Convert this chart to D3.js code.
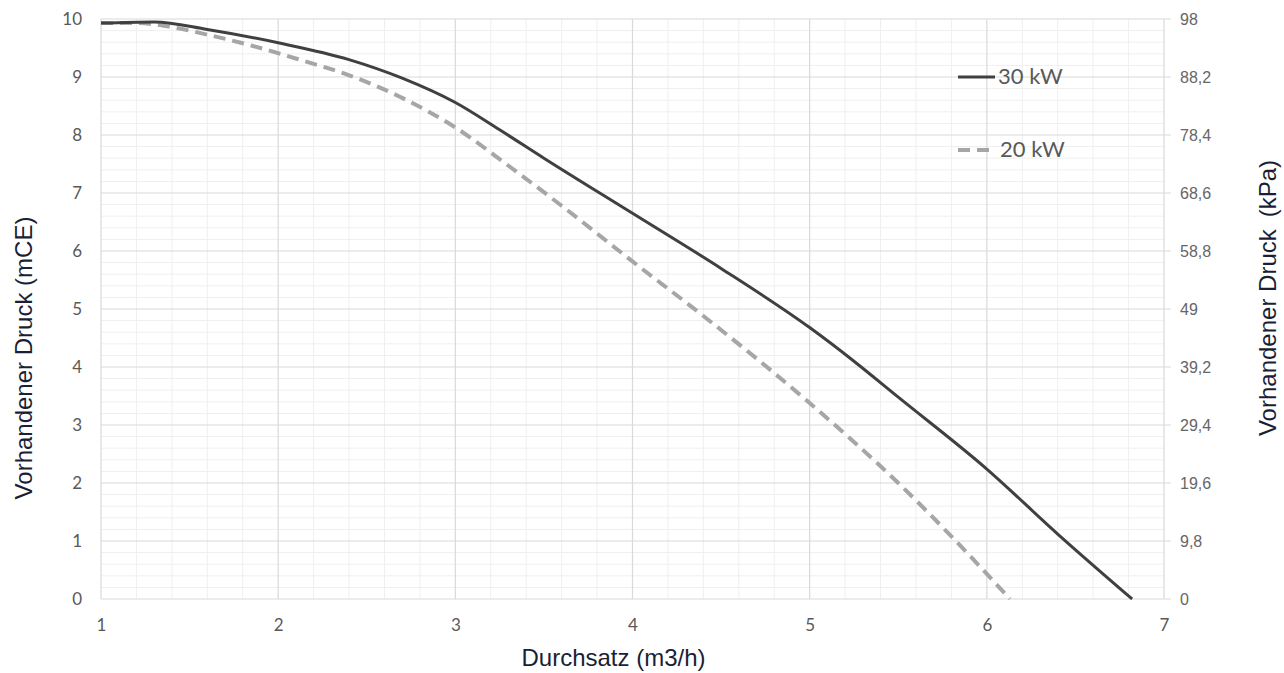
<!DOCTYPE html>
<html>
<head>
<meta charset="utf-8">
<script src="https://cdn.jsdelivr.net/npm/d3@7"></script>
<style>
  body { margin: 0; background: #fff; }
  svg { display: block; }
</style>
</head>
<body>
<svg id="chart"></svg>
<script>
// Durchsatz (m3/h) vs Vorhandener Druck (mCE)
const flow30 = [1.0, 1.3, 1.6, 2.0, 2.4, 2.7, 3.0, 3.25, 3.5, 4.0, 4.5, 5.0, 5.25, 5.5, 6.0, 6.4, 6.82];
const head30 = [9.93, 9.95, 9.82, 9.59, 9.30, 8.98, 8.56, 8.09, 7.60, 6.65, 5.70, 4.68, 4.10, 3.48, 2.24, 1.12, 0.0];

const flow20 = [1.0, 1.2, 1.4, 1.6, 1.84, 2.12, 2.4, 2.7, 3.0, 3.3, 3.6, 4.0, 4.4, 4.98, 5.5, 5.8, 6.13];
const head20 = [9.93, 9.93, 9.86, 9.73, 9.55, 9.30, 9.03, 8.64, 8.13, 7.47, 6.78, 5.82, 4.88, 3.43, 2.0, 1.08, 0.0];

const xTicks = [1, 2, 3, 4, 5, 6, 7];
const yTicks = [0, 1, 2, 3, 4, 5, 6, 7, 8, 9, 10];
const kpaLabels = ["0", "9,8", "19,6", "29,4", "39,2", "49", "58,8", "68,6", "78,4", "88,2", "98"];
const seriesNames = ["30 kW", "20 kW"];

const svgWidth = 1284, svgHeight = 673;
const margin = {top: 19, right: 120, bottom: 74, left: 101},
    width = svgWidth - margin.left - margin.right,
    height = svgHeight - margin.top - margin.bottom;

const chart = d3.select('#chart')
    .attr("width", svgWidth)
    .attr("height", svgHeight);

const g = chart.append("g")
    .attr("transform", `translate(${margin.left},${margin.top})`);

var xScale = d3.scaleLinear().domain([1, 7]).range([0, width]);
var yScale = d3.scaleLinear().domain([0, 10]).range([height, 0]);

// minor grid (0.2 steps)
const minorX = d3.range(1, 7.001, 0.2).filter(v => Math.abs(v - Math.round(v)) > 0.01);
const minorY = d3.range(0, 10.001, 0.2).filter(v => Math.abs(v - Math.round(v)) > 0.01);

g.append("g").selectAll("line")
    .data(minorX).enter().append("line")
    .attr("x1", d => xScale(d)).attr("x2", d => xScale(d))
    .attr("y1", 0).attr("y2", height)
    .style("stroke", "#efefef").style("stroke-width", 1);

g.append("g").selectAll("line")
    .data(minorY).enter().append("line")
    .attr("x1", 0).attr("x2", width)
    .attr("y1", d => yScale(d)).attr("y2", d => yScale(d))
    .style("stroke", "#efefef").style("stroke-width", 1);

// major grid
g.append("g").selectAll("line")
    .data(xTicks).enter().append("line")
    .attr("x1", d => xScale(d)).attr("x2", d => xScale(d))
    .attr("y1", 0).attr("y2", height)
    .style("stroke", "#d9d9d9").style("stroke-width", 1.2);

g.append("g").selectAll("line")
    .data(yTicks).enter().append("line")
    .attr("x1", 0).attr("x2", width + 7)
    .attr("y1", d => yScale(d)).attr("y2", d => yScale(d))
    .style("stroke", "#d9d9d9").style("stroke-width", 1.2);

// axes (labels only, lines drawn by grid)
var xAxis = d3.axisBottom(xScale).tickValues(xTicks).tickSize(0).tickPadding(20).tickFormat(d3.format("d"));
var yAxis = d3.axisLeft(yScale).tickValues(yTicks).tickSize(0).tickPadding(19).tickFormat(d3.format("d"));
var yAxisR = d3.axisRight(yScale).tickValues(yTicks).tickSize(0).tickPadding(16).tickFormat((d, i) => kpaLabels[i]);

g.append("g").attr("transform", `translate(0,${height})`).call(xAxis)
    .call(a => a.select(".domain").remove())
    .selectAll("text").style("font-family", "Lato, 'Open Sans', sans-serif").style("font-size", "17px").style("fill", "#595959");

g.append("g").call(yAxis)
    .call(a => a.select(".domain").remove())
    .selectAll("text").style("font-family", "Lato, 'Open Sans', sans-serif").style("font-size", "17px").style("fill", "#595959");

g.append("g").attr("transform", `translate(${width},0)`).call(yAxisR)
    .call(a => a.select(".domain").remove())
    .selectAll("text").style("font-family", "'Liberation Sans', Arial, sans-serif").style("font-size", "16px").style("fill", "#666");

// lines
var valueline = d3.line()
    .x(d => xScale(d[0]))
    .y(d => yScale(d[1]))
    .curve(d3.curveMonotoneX);

g.append("path")
    .datum(d3.zip(flow20, head20))
    .attr("d", valueline)
    .style("fill", "none")
    .style("stroke", "#a6a6a6")
    .style("stroke-width", 4)
    .style("stroke-dasharray", "12,7");

g.append("path")
    .datum(d3.zip(flow30, head30))
    .attr("d", valueline)
    .style("fill", "none")
    .style("stroke", "#404040")
    .style("stroke-width", 3);

// legend
const legend = chart.append("g").attr("transform", "translate(958,77)");
legend.append("line").attr("x1", 0).attr("x2", 37).attr("y1", 0).attr("y2", 0)
    .style("stroke", "#404040").style("stroke-width", 3);
legend.append("text").attr("x", 40).attr("y", 7).text(seriesNames[0]);
legend.append("line").attr("x1", 0).attr("x2", 32).attr("y1", 73).attr("y2", 73)
    .style("stroke", "#a6a6a6").style("stroke-width", 4).style("stroke-dasharray", "12,7");
legend.append("text").attr("x", 42).attr("y", 80).text(seriesNames[1]);
legend.selectAll("text")
    .style("font-family", "Lato, 'Open Sans', sans-serif").style("font-size", "22px").style("fill", "#595959");

// axis titles
const titleFont = "'Liberation Sans', Arial, sans-serif";
chart.append("text")
    .attr("x", margin.left + width / 2 - 19)
    .attr("y", 666)
    .style("text-anchor", "middle")
    .style("font-family", titleFont).style("font-size", "24px").style("fill", "#1a1f36")
    .text("Durchsatz (m3/h)");

chart.append("text")
    .attr("transform", "translate(32,358) rotate(-90)")
    .style("text-anchor", "middle")
    .style("font-family", titleFont).style("font-size", "24px").style("fill", "#1a1f36")
    .text("Vorhandener Druck (mCE)");

const rt = chart.append("text")
    .attr("transform", "translate(1276,298) rotate(-90)")
    .style("text-anchor", "middle")
    .style("font-family", titleFont).style("font-size", "24px").style("fill", "#1a1f36");
rt.append("tspan").style("font-family", "'Liberation Sans Narrow', " + titleFont).text("Vorhandener Druck");
rt.append("tspan").attr("dx", 12).text("(kPa)");
</script>
</body>
</html>
